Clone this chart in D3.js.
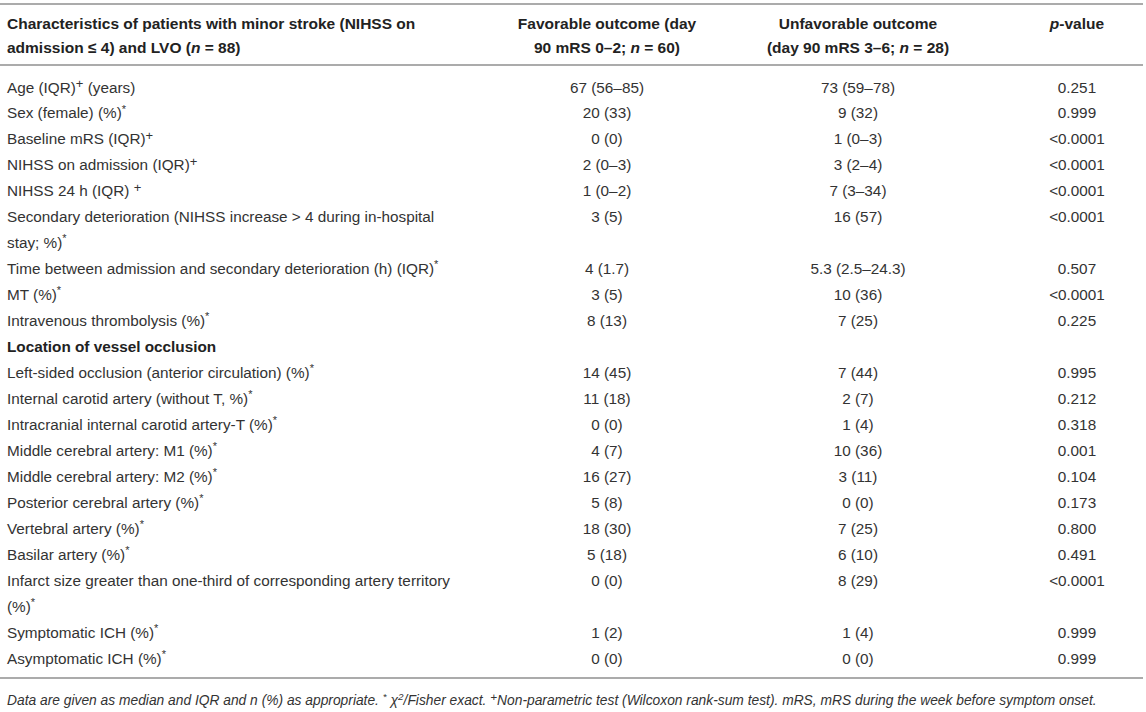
<!DOCTYPE html>
<html>
<head>
<meta charset="utf-8">
<script src="https://cdn.jsdelivr.net/npm/d3@7"></script>
<style>
  body { margin: 0; background: #fff; }
  svg text { font-family: "Liberation Sans", Arial, Helvetica, sans-serif; }
</style>
</head>
<body>
<div id="chart"></div>
<script>
// markup: ^x^ = superscript, _x_ = italic, \n = line break
const headers = [
  "Characteristics of patients with minor stroke (NIHSS on\nadmission ≤ 4) and LVO (_n_ = 88)",
  "Favorable outcome (day\n90 mRS 0–2; _n_ = 60)",
  "Unfavorable outcome\n(day 90 mRS 3–6; _n_ = 28)",
  "_p_-value"
];

const labels = [
  "Age (IQR)^+^ (years)",
  "Sex (female) (%)^*^",
  "Baseline mRS (IQR)^+^",
  "NIHSS on admission (IQR)^+^",
  "NIHSS 24 h (IQR) ^+^",
  "Secondary deterioration (NIHSS increase > 4 during in-hospital\nstay; %)^*^",
  "Time between admission and secondary deterioration (h) (IQR)^*^",
  "MT (%)^*^",
  "Intravenous thrombolysis (%)^*^",
  "Location of vessel occlusion",
  "Left-sided occlusion (anterior circulation) (%)^*^",
  "Internal carotid artery (without T, %)^*^",
  "Intracranial internal carotid artery-T (%)^*^",
  "Middle cerebral artery: M1 (%)^*^",
  "Middle cerebral artery: M2 (%)^*^",
  "Posterior cerebral artery (%)^*^",
  "Vertebral artery (%)^*^",
  "Basilar artery (%)^*^",
  "Infarct size greater than one-third of corresponding artery territory\n(%)^*^",
  "Symptomatic ICH (%)^*^",
  "Asymptomatic ICH (%)^*^"
];

const favorable = [
  "67 (56–85)", "20 (33)", "0 (0)", "2 (0–3)", "1 (0–2)", "3 (5)", "4 (1.7)", "3 (5)", "8 (13)", "",
  "14 (45)", "11 (18)", "0 (0)", "4 (7)", "16 (27)", "5 (8)", "18 (30)", "5 (18)", "0 (0)", "1 (2)", "0 (0)"
];

const unfavorable = [
  "73 (59–78)", "9 (32)", "1 (0–3)", "3 (2–4)", "7 (3–34)", "16 (57)", "5.3 (2.5–24.3)", "10 (36)", "7 (25)", "",
  "7 (44)", "2 (7)", "1 (4)", "10 (36)", "3 (11)", "0 (0)", "7 (25)", "6 (10)", "8 (29)", "1 (4)", "0 (0)"
];

const pValues = [
  "0.251", "0.999", "<0.0001", "<0.0001", "<0.0001", "<0.0001", "0.507", "<0.0001", "0.225", "",
  "0.995", "0.212", "0.318", "0.001", "0.104", "0.173", "0.800", "0.491", "<0.0001", "0.999", "0.999"
];

const sectionRows = ["Location of vessel occlusion"];

const footnote = "Data are given as median and IQR and n (%) as appropriate. ^*^ χ^2^/Fisher exact. ^+^Non-parametric test (Wilcoxon rank-sum test). mRS, mRS during the week before symptom onset.";

const W = 1146, H = 712;
const svg = d3.select("#chart").append("svg")
  .attr("width", W).attr("height", H);

// column anchors
const cols = [
  { x: 7, anchor: "start" },
  { x: 607, anchor: "middle" },
  { x: 858, anchor: "middle" },
  { x: 1077, anchor: "middle" }
];

// line positions: each text line is one step
const totalLines = d3.sum(labels, l => l.split("\n").length);
const y = d3.scaleLinear().domain([0, totalLines - 1]).range([87, 658]);

function parse(str) {
  const out = [];
  const re = /\^([^^]*)\^|_([^_]*)_|([^^_]+)/g;
  let m;
  while ((m = re.exec(str)) !== null) {
    if (m[1] !== undefined) out.push({ t: m[1], sup: true });
    else if (m[2] !== undefined) out.push({ t: m[2], it: true });
    else out.push({ t: m[3] });
  }
  return out;
}

function writeLine(sel, str, size) {
  let shift = 0;
  parse(str).forEach(seg => {
    const ts = sel.append("tspan").text(seg.t);
    if (seg.it) ts.attr("font-style", "italic");
    if (seg.sup) {
      // plus signs sit larger and lower than the small asterisks
      const plus = seg.t === "+";
      shift = size * (plus ? 0.3 : 0.38);
      ts.attr("font-size", size * (plus ? 0.85 : 0.72)).attr("dy", -shift);
    } else if (shift) {
      ts.attr("dy", shift);
      shift = 0;
    }
  });
}

function cell(g, str, col, yy, opts) {
  const size = opts.size || 15.3;
  str.split("\n").forEach((line, i) => {
    const t = g.append("text")
      .attr("x", col.x)
      .attr("y", yy + i * opts.lh)
      .attr("dy", "0.36em")
      .attr("text-anchor", col.anchor)
      .attr("font-size", size)
      .attr("font-weight", opts.bold ? "bold" : null)
      .attr("font-style", opts.italic ? "italic" : null)
      .attr("fill", opts.fill || "#333");
    writeLine(t, line, size);
  });
}

const lineColor = "#ababab";
const rule = yy => svg.append("line")
  .attr("x1", 0).attr("x2", 1143)
  .attr("y1", yy).attr("y2", yy)
  .attr("stroke", lineColor).attr("stroke-width", 2);

rule(4);
rule(65);
rule(678);

// header
const head = svg.append("g");
headers.forEach((h, i) => cell(head, h, cols[i], 23, { bold: true, lh: 24, size: 15.5, fill: "#222" }));

// body
const body = svg.append("g");
let line = 0;
labels.forEach((label, i) => {
  const yy = y(line);
  const isSection = sectionRows.includes(label);
  cell(body, label, cols[0], yy, { lh: y(1) - y(0), bold: isSection, fill: isSection ? "#222" : "#333" });
  [favorable[i], unfavorable[i], pValues[i]].forEach((v, j) => {
    if (v) cell(body, v, cols[j + 1], yy, { lh: 0 });
  });
  line += label.split("\n").length;
});

// footnote
cell(svg.append("g"), footnote, cols[0], 700, { lh: 0, size: 13.8, italic: true });
</script>
</body>
</html>
